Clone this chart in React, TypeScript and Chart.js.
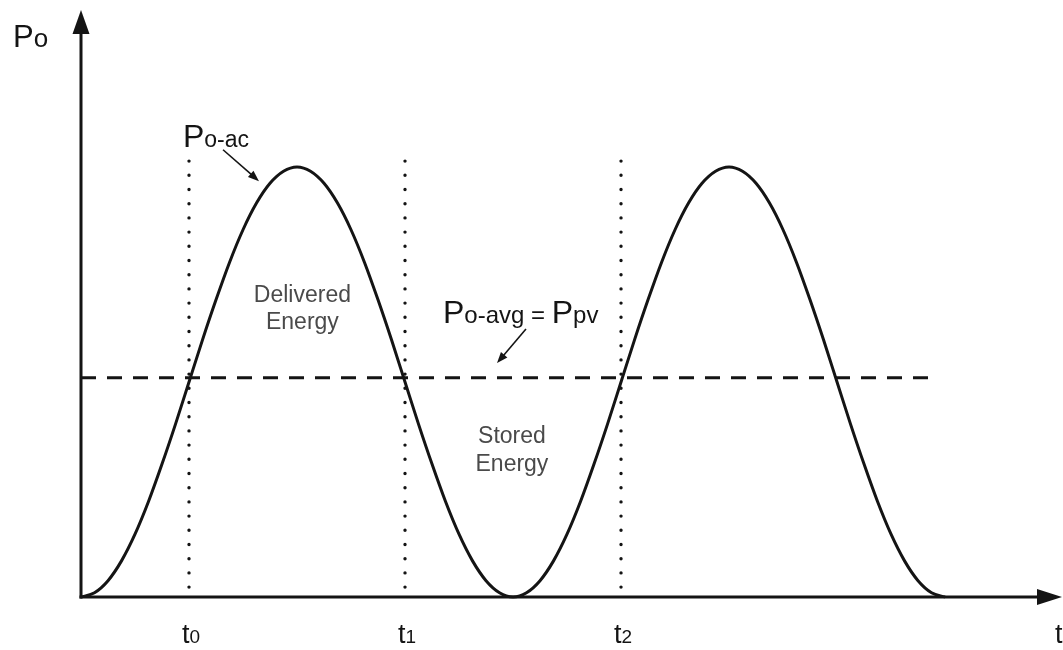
import React, { useEffect, useRef } from "react";
import { Chart, registerables } from "chart.js";

Chart.register(...registerables);

// Time samples (one period = 4 units)
const timeSteps = [
  0, 0.125, 0.25, 0.375, 0.5, 0.625, 0.75, 0.875, 1, 1.125, 1.25, 1.375, 1.5, 1.625, 1.75, 1.875,
  2, 2.125, 2.25, 2.375, 2.5, 2.625, 2.75, 2.875, 3, 3.125, 3.25, 3.375, 3.5, 3.625, 3.75, 3.875,
  4, 4.125, 4.25, 4.375, 4.5, 4.625, 4.75, 4.875, 5, 5.125, 5.25, 5.375, 5.5, 5.625, 5.75, 5.875,
  6, 6.125, 6.25, 6.375, 6.5, 6.625, 6.75, 6.875, 7, 7.125, 7.25, 7.375, 7.5, 7.625, 7.75, 7.875, 8,
];
// Instantaneous output power, normalised to its peak
const acPower = [
  0, 0.01, 0.038, 0.084, 0.146, 0.222, 0.309, 0.402, 0.5, 0.598, 0.691, 0.778, 0.854, 0.916, 0.962, 0.99,
  1, 0.99, 0.962, 0.916, 0.854, 0.778, 0.691, 0.598, 0.5, 0.402, 0.309, 0.222, 0.146, 0.084, 0.038, 0.01,
  0, 0.01, 0.038, 0.084, 0.146, 0.222, 0.309, 0.402, 0.5, 0.598, 0.691, 0.778, 0.854, 0.916, 0.962, 0.99,
  1, 0.99, 0.962, 0.916, 0.854, 0.778, 0.691, 0.598, 0.5, 0.402, 0.309, 0.222, 0.146, 0.084, 0.038, 0.01, 0,
];

// Average output power (equal to the PV power) and the span it is drawn over
const avgPower = 0.51;
const avgSpan = [0, 7.94];

// Marked instants t0, t1, t2 and the vertical extent of their dotted guides
const markerTimes = [1, 3, 5];
const markerSubs = ["0", "1", "2"];
const markerExtent = [0.023, 1.016];

// Axis ranges
const timeMax = 9.083;
const powerMax = 1.365;

const FONT = '"Liberation Sans", Arial, Helvetica, sans-serif';
const INK = "#141414";
const SOFT = "#4a4a4a";

type Part = [string, number];

function drawRich(ctx: CanvasRenderingContext2D, parts: Part[], x: number, y: number, color: string) {
  ctx.fillStyle = color;
  ctx.textBaseline = "alphabetic";
  ctx.textAlign = "left";
  let cx = x;
  for (const [text, size] of parts) {
    ctx.font = `${size}px ${FONT}`;
    ctx.fillText(text, cx, y);
    cx += ctx.measureText(text).width;
  }
}

function drawCentered(ctx: CanvasRenderingContext2D, text: string, size: number, x: number, y: number, color: string) {
  ctx.fillStyle = color;
  ctx.font = `${size}px ${FONT}`;
  ctx.textAlign = "center";
  ctx.textBaseline = "alphabetic";
  ctx.fillText(text, x, y);
}

function arrowHead(ctx: CanvasRenderingContext2D, tx: number, ty: number, fx: number, fy: number, len: number, half: number) {
  const a = Math.atan2(ty - fy, tx - fx);
  const bx = tx - len * Math.cos(a);
  const by = ty - len * Math.sin(a);
  ctx.beginPath();
  ctx.moveTo(tx, ty);
  ctx.lineTo(bx + half * Math.sin(a), by - half * Math.cos(a));
  ctx.lineTo(bx - half * Math.sin(a), by + half * Math.cos(a));
  ctx.closePath();
  ctx.fill();
}

function pointer(ctx: CanvasRenderingContext2D, fx: number, fy: number, tx: number, ty: number) {
  const a = Math.atan2(ty - fy, tx - fx);
  ctx.beginPath();
  ctx.moveTo(fx, fy);
  ctx.lineTo(tx - 8 * Math.cos(a), ty - 8 * Math.sin(a));
  ctx.lineWidth = 1.6;
  ctx.strokeStyle = INK;
  ctx.stroke();
  ctx.fillStyle = INK;
  arrowHead(ctx, tx, ty, fx, fy, 11, 4.2);
}

const diagramPlugin = {
  id: "diagram",
  afterDatasetsDraw(chart: any) {
    const { ctx, chartArea } = chart;
    const xs = chart.scales.x;
    const ys = chart.scales.y;
    const X = (v: number) => xs.getPixelForValue(v);
    const Y = (v: number) => ys.getPixelForValue(v);
    ctx.save();

    // Axes with arrowheads
    const ox = X(0);
    const oy = Y(0);
    ctx.strokeStyle = INK;
    ctx.fillStyle = INK;
    ctx.lineWidth = 3;
    ctx.lineCap = "butt";
    ctx.beginPath();
    ctx.moveTo(ox, oy + 1.5);
    ctx.lineTo(ox, chartArea.top + 20);
    ctx.stroke();
    ctx.beginPath();
    ctx.moveTo(ox - 1.5, oy);
    ctx.lineTo(chartArea.right - 20, oy);
    ctx.stroke();
    arrowHead(ctx, ox, chartArea.top, ox, oy, 24, 8.5);
    arrowHead(ctx, chartArea.right, oy, ox, oy, 25, 8);

    // Axis titles
    drawRich(ctx, [["P", 31], ["o", 26]], X(-0.63), Y(1.279), INK);
    drawRich(ctx, [["t", 27]], 1055, Y(-0.107), INK);

    // Instant labels t0, t1, t2
    markerTimes.forEach((t, i) => {
      drawRich(ctx, [["t", 27], [markerSubs[i], 19]], X(t) - 7, Y(-0.107), INK);
    });

    // Curve annotations
    drawRich(ctx, [["P", 32], ["o-ac", 23]], X(0.944), Y(1.047), INK);
    pointer(ctx, X(1.315), Y(1.04), X(1.648), Y(0.967));

    drawRich(ctx, [["P", 32], ["o-avg", 24], [" = ", 24], ["P", 32], ["pv", 24]], X(3.352), Y(0.637), INK);
    pointer(ctx, X(4.12), Y(0.623), X(3.852), Y(0.544));

    drawCentered(ctx, "Delivered", 23, X(2.05), Y(0.686), SOFT);
    drawCentered(ctx, "Energy", 23, X(2.05), Y(0.623), SOFT);
    drawCentered(ctx, "Stored", 23, X(3.99), Y(0.358), SOFT);
    drawCentered(ctx, "Energy", 23, X(3.99), Y(0.293), SOFT);

    ctx.restore();
  },
};

export default function App() {
  const canvasRef = useRef<HTMLCanvasElement | null>(null);

  useEffect(() => {
    const canvas = canvasRef.current;
    if (!canvas) return;

    const curve = timeSteps.map((t, i) => ({ x: t, y: acPower[i] }));
    const avgLine = avgSpan.map((t) => ({ x: t, y: avgPower }));
    const markers = markerTimes.map((t) => ({
      data: markerExtent.map((p) => ({ x: t, y: p })),
      borderColor: INK,
      borderWidth: 3.4,
      borderDash: [0, 14.2],
      borderCapStyle: "round" as const,
      pointRadius: 0,
      fill: false,
      clip: false as const,
    }));

    const chart = new Chart(canvas, {
      type: "line",
      data: {
        datasets: [
          ...markers,
          {
            data: avgLine,
            borderColor: INK,
            borderWidth: 3,
            borderDash: [15, 11],
            pointRadius: 0,
            fill: false,
            clip: false as const,
          },
          {
            data: curve,
            borderColor: INK,
            borderWidth: 3,
            cubicInterpolationMode: "monotone",
            borderJoinStyle: "round",
            pointRadius: 0,
            fill: false,
            clip: false as const,
          },
        ],
      },
      options: {
        responsive: false,
        animation: false,
        events: [],
        layout: { padding: { left: 81, right: 1, top: 10, bottom: 53 } },
        scales: {
          x: { type: "linear", min: 0, max: timeMax, display: false },
          y: { type: "linear", min: 0, max: powerMax, display: false },
        },
        plugins: {
          legend: { display: false },
          tooltip: { enabled: false },
        },
      },
      plugins: [diagramPlugin],
    });

    return () => chart.destroy();
  }, []);

  return (
    <div style={{ position: "fixed", left: 0, top: 0, width: 1063, height: 650, background: "#fff" }}>
      <canvas ref={canvasRef} width={1063} height={650} style={{ display: "block" }} />
    </div>
  );
}
